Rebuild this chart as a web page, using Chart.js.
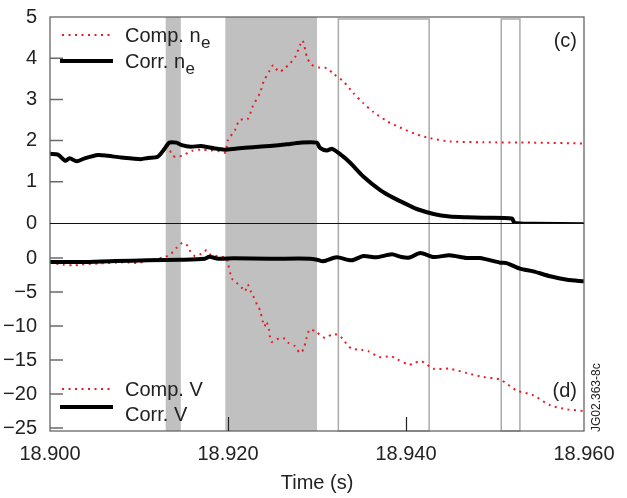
<!DOCTYPE html>
<html>
<head>
<meta charset="utf-8">
<script src="https://cdn.jsdelivr.net/npm/chart.js@4.4.1/dist/chart.umd.min.js"></script>
<style>
  html, body { margin: 0; padding: 0; background: #fff; }
  canvas { display: block; }
</style>
</head>
<body>
<canvas id="plot" width="627" height="498"></canvas>
<script>
// values (time in s)
const xTicks = [18.900, 18.920, 18.940, 18.960];
const neTicks = [0, 1, 2, 3, 4, 5];
const vTicks = [0, -5, -10, -15, -20, -25];

const shadedSpans = [[18.9130, 18.9147], [18.9197, 18.9300]];
const outlinedSpans = [[18.9324, 18.9426], [18.9507, 18.9528]];

const corrNeT = [18.9000, 18.9009, 18.9017, 18.9022, 18.9030, 18.9039, 18.9054, 18.9065, 18.9080, 18.9102,
  18.9110, 18.9121, 18.9129, 18.9134, 18.9142, 18.9148, 18.9158, 18.9170, 18.9185, 18.9196,
  18.9210, 18.9228, 18.9247, 18.9266, 18.9281, 18.9300, 18.9303, 18.9311, 18.9317, 18.9326,
  18.9337, 18.9352, 18.9371, 18.9386, 18.9404, 18.9412, 18.9431, 18.9449, 18.9468, 18.9487,
  18.9519, 18.9522, 18.9543, 18.9600];
const corrNe = [1.68, 1.66, 1.51, 1.57, 1.50, 1.57, 1.65, 1.63, 1.59, 1.55,
  1.58, 1.61, 1.81, 1.95, 1.95, 1.89, 1.85, 1.87, 1.81, 1.78,
  1.81, 1.84, 1.87, 1.91, 1.95, 1.95, 1.83, 1.76, 1.80, 1.67,
  1.47, 1.13, 0.80, 0.61, 0.42, 0.34, 0.22, 0.16, 0.14, 0.13,
  0.11, 0.00, -0.02, -0.03];

const compNeT = [18.9132, 18.9138, 18.9144, 18.9151, 18.9159, 18.9170, 18.9181, 18.9191, 18.9197, 18.9200,
  18.9208, 18.9213, 18.9222, 18.9228, 18.9236, 18.9240, 18.9247, 18.9251, 18.9257, 18.9263,
  18.9270, 18.9276, 18.9281, 18.9284, 18.9289, 18.9294, 18.9303, 18.9311, 18.9318, 18.9330,
  18.9341, 18.9352, 18.9363, 18.9378, 18.9393, 18.9412, 18.9427, 18.9449, 18.9487, 18.9543,
  18.9600];
const compNe = [1.90, 1.63, 1.61, 1.66, 1.75, 1.78, 1.76, 1.74, 1.71, 2.01,
  2.26, 2.50, 2.52, 2.84, 3.16, 3.43, 3.71, 3.83, 3.67, 3.74,
  3.88, 4.05, 4.32, 4.43, 4.01, 3.84, 3.77, 3.76, 3.63, 3.43,
  3.15, 2.91, 2.70, 2.48, 2.32, 2.15, 2.06, 1.98, 1.96, 1.95,
  1.93];

const corrVT = [18.9000, 18.9035, 18.9073, 18.9110, 18.9147, 18.9174, 18.9179, 18.9189, 18.9206, 18.9247,
  18.9292, 18.9300, 18.9307, 18.9322, 18.9339, 18.9352, 18.9367, 18.9384, 18.9395, 18.9404,
  18.9416, 18.9431, 18.9449, 18.9468, 18.9483, 18.9506, 18.9513, 18.9528, 18.9543, 18.9562,
  18.9581, 18.9600];
const corrV = [-0.59, -0.59, -0.44, -0.34, -0.25, -0.10, 0.19, -0.10, -0.04, -0.10,
  -0.10, -0.25, -0.49, 0.10, -0.34, 0.29, 0.10, 0.54, 0.15, 0.08,
  0.74, 0.15, 0.40, 0.00, 0.00, -0.69, -0.74, -1.57, -1.96, -2.69,
  -3.19, -3.43];

const compVT = [18.9000, 18.9015, 18.9028, 18.9035, 18.9056, 18.9084, 18.9099, 18.9110, 18.9129, 18.9136,
  18.9142, 18.9149, 18.9155, 18.9158, 18.9163, 18.9170, 18.9176, 18.9181, 18.9189, 18.9198,
  18.9200, 18.9203, 18.9205, 18.9210, 18.9215, 18.9219, 18.9222, 18.9226, 18.9228, 18.9233,
  18.9236, 18.9239, 18.9241, 18.9243, 18.9246, 18.9247, 18.9249, 18.9258, 18.9264, 18.9268,
  18.9275, 18.9281, 18.9285, 18.9288, 18.9292, 18.9299, 18.9309, 18.9317, 18.9323, 18.9329,
  18.9333, 18.9339, 18.9350, 18.9358, 18.9370, 18.9383, 18.9390, 18.9403, 18.9408, 18.9417,
  18.9431, 18.9449, 18.9468, 18.9487, 18.9506, 18.9524, 18.9543, 18.9562, 18.9581, 18.9600];
const compV = [-0.69, -0.99, -1.07, -0.93, -0.80, -0.63, -0.74, -0.34, 0.15, 0.63,
  1.47, 2.25, 1.76, 0.88, 0.29, 0.63, 1.13, 0.40, 0.25, 0.04,
  -0.84, -2.46, -3.13, -3.68, -4.30, -4.90, -3.90, -5.00, -5.49, -6.96,
  -7.69, -9.31, -10.04, -9.31, -10.54, -11.47, -12.35, -11.76, -11.87, -12.50,
  -12.94, -13.97, -13.34, -11.87, -10.49, -10.88, -11.76, -11.22, -11.28, -11.87,
  -12.60, -13.34, -13.49, -13.72, -14.56, -14.46, -14.90, -15.69, -15.54, -15.15,
  -16.28, -16.28, -16.91, -17.50, -17.90, -19.46, -20.19, -21.66, -22.25, -22.50];

const FONT = '"Liberation Sans", Arial, Helvetica, sans-serif';
const RED = 'rgb(232, 28, 36)';

function pairs(ts, vs) {
  return ts.map((t, i) => ({ x: t, y: vs[i] }));
}
function minus(v) {
  return v < 0 ? '\u2212' + Math.abs(v) : String(v);
}

// shaded bands, frame, inner ticks, legends and labels
const decor = {
  id: 'decor',
  beforeDatasetsDraw(chart) {
    const { ctx, chartArea: a, scales: { x } } = chart;
    ctx.save();
    ctx.fillStyle = '#c0c0c0';
    shadedSpans.forEach(([t0, t1]) => {
      const p0 = x.getPixelForValue(t0), p1 = x.getPixelForValue(t1);
      ctx.fillRect(p0, a.top, p1 - p0, a.bottom - a.top);
    });
    ctx.strokeStyle = '#ababab';
    ctx.lineWidth = 1.5;
    outlinedSpans.forEach(([t0, t1]) => {
      const p0 = x.getPixelForValue(t0), p1 = x.getPixelForValue(t1);
      ctx.strokeRect(p0, a.top + 2, p1 - p0, a.bottom - a.top - 2);
    });
    ctx.restore();
  },
  afterDatasetsDraw(chart) {
    const { ctx, chartArea: a, scales: { x, yTop, yBot } } = chart;
    ctx.save();
    // frame
    ctx.strokeStyle = '#666';
    ctx.lineWidth = 1.3;
    ctx.strokeRect(a.left, a.top, a.right - a.left, a.bottom - a.top);
    // panel separator
    ctx.strokeStyle = '#111';
    ctx.lineWidth = 1;
    ctx.beginPath();
    ctx.moveTo(a.left, yTop.bottom + 0.5);
    ctx.lineTo(a.right, yTop.bottom + 0.5);
    ctx.stroke();
    // inner y ticks
    ctx.strokeStyle = '#6a6a6a';
    ctx.lineWidth = 1.5;
    ctx.beginPath();
    [[yTop, neTicks], [yBot, vTicks]].forEach(([s, ticks]) => {
      ticks.forEach(v => {
        const py = s.getPixelForValue(v);
        if (py <= s.top + 1 || py >= s.bottom - 1) return;
        ctx.moveTo(a.left, py);
        ctx.lineTo(a.left + 13, py);
      });
    });
    ctx.stroke();
    // inner x ticks
    ctx.strokeStyle = '#222';
    ctx.lineWidth = 1.2;
    ctx.beginPath();
    xTicks.slice(1, -1).forEach(t => {
      const px = Math.round(x.getPixelForValue(t)) + 0.5;
      ctx.moveTo(px, a.bottom);
      ctx.lineTo(px, a.bottom - 14);
    });
    ctx.stroke();
    ctx.restore();
  },
  afterDraw(chart) {
    const { ctx, chartArea: a } = chart;
    ctx.save();
    const L = a.left;
    const legend = [
      { y: a.top + 18, base: a.top + 25, txt: 'Comp. n', sub: 'e', red: true },
      { y: a.top + 44, base: a.top + 51, txt: 'Corr. n', sub: 'e', red: false },
      { y: a.bottom - 42, base: a.bottom - 35, txt: 'Comp. V', sub: '', red: true },
      { y: a.bottom - 24, base: a.bottom - 10, txt: 'Corr. V', sub: '', red: false }
    ];
    legend.forEach(it => {
      ctx.beginPath();
      if (it.red) {
        ctx.strokeStyle = RED;
        ctx.lineWidth = 2;
        ctx.setLineDash([2, 4.5]);
        ctx.moveTo(L + 12, it.y);
        ctx.lineTo(L + 61, it.y);
      } else {
        ctx.strokeStyle = '#000';
        ctx.lineWidth = 4;
        ctx.setLineDash([]);
        ctx.moveTo(L + 10, it.y);
        ctx.lineTo(L + 63, it.y);
      }
      ctx.stroke();
      ctx.setLineDash([]);
      ctx.fillStyle = '#222';
      ctx.textBaseline = 'alphabetic';
      ctx.textAlign = 'left';
      ctx.font = '20px ' + FONT;
      ctx.fillText(it.txt, L + 75, it.base);
      if (it.sub) {
        const w = ctx.measureText(it.txt).width;
        ctx.font = '17px ' + FONT;
        ctx.fillText(it.sub, L + 75 + w + 0.5, it.base + 5.5);
      }
    });
    // panel tags
    ctx.font = '20px ' + FONT;
    ctx.textAlign = 'right';
    ctx.fillStyle = '#222';
    ctx.fillText('(c)', a.right - 7, a.top + 29.5);
    ctx.fillText('(d)', a.right - 7, a.bottom - 34.5);
    // figure id
    ctx.translate(a.right + 16, a.bottom + 1);
    ctx.rotate(-Math.PI / 2);
    ctx.font = '12px ' + FONT;
    ctx.textAlign = 'left';
    ctx.fillText('JG02.363-8c', 0, 0);
    ctx.restore();
  }
};

const tickFont = { family: FONT, size: 20 };

new Chart(document.getElementById('plot'), {
  type: 'line',
  data: {
    datasets: [
      {
        label: 'Corr. ne', data: pairs(corrNeT, corrNe), yAxisID: 'yTop',
        borderColor: '#000', borderWidth: 4, order: 0
      },
      {
        label: 'Comp. ne', data: pairs(compNeT, compNe), yAxisID: 'yTop',
        borderColor: RED, borderWidth: 2, borderDash: [2, 4.5], order: 1
      },
      {
        label: 'Corr. V', data: pairs(corrVT, corrV), yAxisID: 'yBot',
        borderColor: '#000', borderWidth: 4, order: 0
      },
      {
        label: 'Comp. V', data: pairs(compVT, compV), yAxisID: 'yBot',
        borderColor: RED, borderWidth: 2, borderDash: [2, 4.5], order: 1
      }
    ]
  },
  options: {
    responsive: false,
    animation: false,
    events: [],
    layout: { padding: { top: 17, right: 43, left: 0, bottom: 0 } },
    elements: {
      point: { radius: 0 },
      line: { tension: 0.25, fill: false, borderCapStyle: 'butt', borderJoinStyle: 'round' }
    },
    plugins: { legend: { display: false }, tooltip: { enabled: false } },
    scales: {
      x: {
        type: 'linear', position: 'bottom', min: 18.9, max: 18.96,
        grid: { display: false }, border: { display: false },
        afterBuildTicks: s => { s.ticks = xTicks.map(v => ({ value: v })); },
        afterFit: s => { s.height = 67; },
        ticks: { font: tickFont, color: '#222', padding: 3, maxRotation: 0, autoSkip: false,
          callback: v => v.toFixed(3) },
        title: { display: true, text: 'Time (s)', font: tickFont, color: '#222', padding: { top: 0, bottom: 3 } }
      },
      // stacked axes are laid out bottom-up, so the lower panel comes first
      yBot: {
        type: 'linear', position: 'left', stack: 'panels', stackWeight: 208,
        min: -25.44, max: 5.15,
        grid: { display: false }, border: { display: false },
        afterBuildTicks: s => { s.ticks = vTicks.map(v => ({ value: v })); },
        afterFit: s => { s.width = 50; },
        ticks: { font: tickFont, color: '#222', padding: 5, autoSkip: false, callback: minus }
      },
      yTop: {
        type: 'linear', position: 'left', stack: 'panels', stackWeight: 206,
        min: 0, max: 5,
        grid: { display: false }, border: { display: false },
        afterBuildTicks: s => { s.ticks = neTicks.map(v => ({ value: v })); },
        afterFit: s => { s.width = 50; },
        ticks: { font: tickFont, color: '#222', padding: 5, autoSkip: false, callback: minus }
      }
    }
  },
  plugins: [decor]
});
</script>
</body>
</html>
